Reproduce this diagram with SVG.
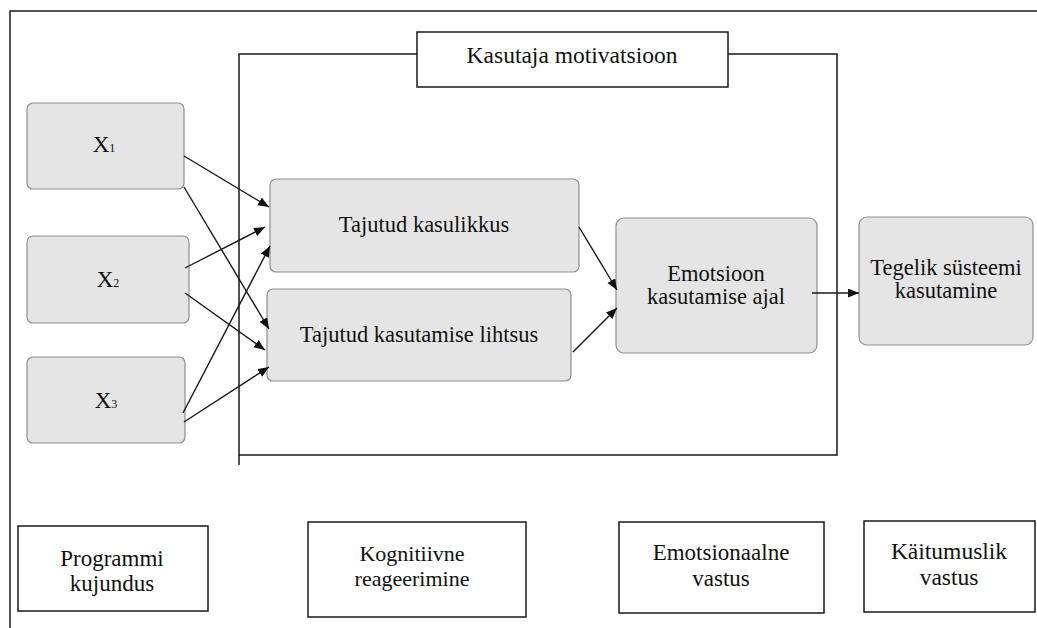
<svg xmlns="http://www.w3.org/2000/svg" width="1037" height="628" viewBox="0 0 1037 628">
<defs>
<style>
.nd{fill:#e5e5e5;stroke:#8f8f8f;stroke-width:1.2}
.lb{fill:#fff;stroke:#1a1a1a;stroke-width:1.5}
.fr{fill:none;stroke:#1a1a1a;stroke-width:1.5}
.t{fill:#111;text-anchor:middle}
.c line{stroke:#1a1a1a;stroke-width:1.4;marker-end:url(#ah)}
</style>
<marker id="ah" markerUnits="userSpaceOnUse" markerWidth="12" markerHeight="10" refX="11" refY="4.5" orient="auto" viewBox="0 0 12 10">
<path d="M0,0 L11,4.5 L0,9 z" fill="#111"/>
</marker>
</defs>
<rect width="1037" height="628" fill="#fff"/>
<g id="outer-frame">
<path class="fr" d="M10,628 V11 H1037"/>
</g>
<g id="motivation-frame">
<rect class="fr" x="239" y="54" width="598" height="401"/>
<line x1="239" y1="455" x2="239" y2="465" stroke="#1a1a1a" stroke-width="1.5"/>
</g>
<g font-family="'Liberation Serif', 'Times New Roman', Tinos, 'DejaVu Serif', 'Noto Serif', serif">
<g id="title">
<rect class="lb" x="417" y="32" width="311" height="55"/>
<text class="t" x="572" y="63" font-size="23.5">Kasutaja motivatsioon</text>
</g>
<g id="x1">
<rect class="nd" x="27" y="103" width="157" height="86" rx="6"/>
<text class="t" x="104" y="152" font-size="23">X<tspan font-size="12">1</tspan></text>
</g>
<g id="x2">
<rect class="nd" x="27" y="236" width="162" height="87" rx="6"/>
<text class="t" x="108" y="287" font-size="23">X<tspan font-size="12">2</tspan></text>
</g>
<g id="x3">
<rect class="nd" x="27" y="357" width="158" height="86" rx="6"/>
<text class="t" x="106" y="408" font-size="23">X<tspan font-size="12">3</tspan></text>
</g>
<g id="kasulikkus">
<rect class="nd" x="270" y="179" width="309" height="93" rx="6"/>
<text class="t" x="424" y="232" font-size="22.5">Tajutud kasulikkus</text>
</g>
<g id="lihtsus">
<rect class="nd" x="267" y="289" width="304" height="92" rx="6"/>
<text class="t" x="419" y="342" font-size="22.5">Tajutud kasutamise lihtsus</text>
</g>
<g id="emotsioon">
<rect class="nd" x="616" y="218" width="201" height="135" rx="8"/>
<text class="t" x="716" y="281" font-size="22.5">Emotsioon</text>
<text class="t" x="716" y="304" font-size="22.5">kasutamise ajal</text>
</g>
<g id="tegelik">
<rect class="nd" x="859" y="217" width="174" height="128" rx="8"/>
<text class="t" x="946" y="275" font-size="22.5">Tegelik süsteemi</text>
<text class="t" x="946" y="298" font-size="22.5">kasutamine</text>
</g>
<g id="programmi">
<rect class="lb" x="18" y="526" width="190" height="85"/>
<text class="t" x="112" y="566" font-size="23">Programmi</text>
<text class="t" x="112" y="591" font-size="23">kujundus</text>
</g>
<g id="kognitiivne">
<rect class="lb" x="308" y="522" width="218" height="95"/>
<text class="t" x="412" y="561" font-size="22">Kognitiivne</text>
<text class="t" x="412" y="586" font-size="22">reageerimine</text>
</g>
<g id="emotsionaalne">
<rect class="lb" x="619" y="522" width="205" height="91"/>
<text class="t" x="721" y="560" font-size="23">Emotsionaalne</text>
<text class="t" x="721" y="586" font-size="23">vastus</text>
</g>
<g id="kaitumuslik">
<rect class="lb" x="864" y="521" width="171" height="91"/>
<text class="t" x="949" y="559" font-size="23.5">Käitumuslik</text>
<text class="t" x="949" y="585" font-size="23.5">vastus</text>
</g>
</g>
<g id="connectors" class="c">
<line x1="184" y1="156" x2="269" y2="207"/>
<line x1="184" y1="187" x2="269" y2="329"/>
<line x1="185" y1="268" x2="265" y2="227"/>
<line x1="185" y1="293" x2="265" y2="350"/>
<line x1="183" y1="413" x2="270" y2="246"/>
<line x1="184" y1="422" x2="269" y2="367"/>
<line x1="579" y1="227" x2="617" y2="290"/>
<line x1="573" y1="352" x2="617" y2="308"/>
<line x1="812" y1="293" x2="859" y2="293"/>
</g>
</svg>
